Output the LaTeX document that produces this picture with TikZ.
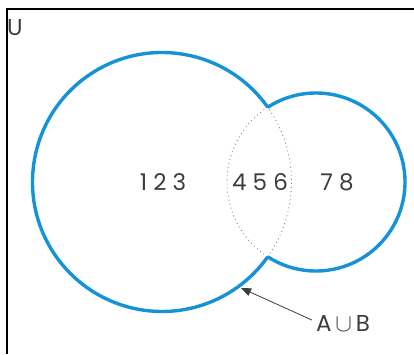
\documentclass[tikz,border=0pt]{standalone}
\usepackage{fontspec}
\setmainfont{Poppins}
\usepackage{tikz}
\usetikzlibrary{arrows.meta}
\definecolor{vennblue}{RGB}{22,146,214}
\definecolor{textgray}{RGB}{60,60,60}
\tikzset{
    setline/.style={draw=vennblue,line width=3.4pt},
    overlap/.style={draw=gray,dash pattern=on 0.9pt off 3.2pt,line width=0.9pt},
    elems/.style={text=textgray,font=\fontsize{23}{26}\selectfont,inner sep=0pt}
}

\begin{document}
\begin{tikzpicture}[x=1pt,y=1pt]
        \useasboundingbox (0,0) rectangle (414,354);
        \draw[line width=2pt] (6.5,0) -- (6.5,345) -- (414,345);
    
        \coordinate (A) at (162,172);
        \coordinate (B) at (316,172);
    
        % outline of the union
        \draw[setline] ([shift={(35.3:129.5)}]A) arc (35.3:324.7:129.5);
        \draw[setline] ([shift={(-122.9:89)}]B) arc (-122.9:122.9:89);
    
        % hidden parts inside the overlap
        \draw[overlap] ([shift={(-35.3:129.5)}]A) arc (-35.3:35.3:129.5);
        \draw[overlap] ([shift={(122.9:89)}]B) arc (122.9:237.1:89);
    
        \node[elems,anchor=west] (u) at (7,326) {U};
        \node[elems] (onlyA) at (163,172) {1 2 3};
        \node[elems] (both) at (260,172) {4 5 6};
        \node[elems] (onlyB) at (337,172) {7 8};
        \node[elems] (aub) at (343,31) {A\,{\fontsize{28}{30}\selectfont$\cup$}\,B};
    
        \coordinate (tip) at (241,66);
        \draw[textgray,line width=0.8pt,-{Triangle[length=10pt,width=8pt]}] (aub.west) ++(-4,3) -- (tip);
    \end{tikzpicture}
\end{document}
